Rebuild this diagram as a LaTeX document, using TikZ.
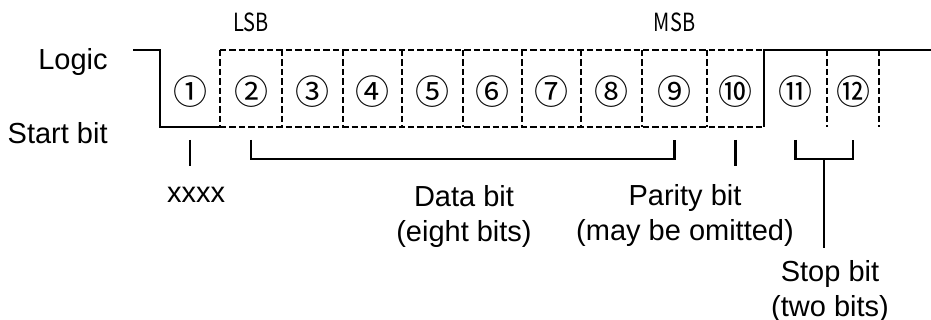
\documentclass[tikz,border=0pt]{standalone}
\usepackage{fontspec}
\setmainfont{Liberation Sans}
\newfontfamily\cjkfont{Noto Sans CJK JP}
\usetikzlibrary{calc}
\tikzset{
  sig/.style={line width=1.1pt},
  dsig/.style={line width=1.25pt, dash pattern=on 3.2pt off 1.5pt},
  brk/.style={line width=1.1pt},
  num/.style={font=\cjkfont\fontsize{17}{17}\selectfont, inner sep=0pt},
  sb/.style={font=\cjkfont\fontsize{12.5}{12.5}\selectfont, xscale=0.8, inner sep=0pt},
  lbl/.style={font=\fontsize{14.5}{17.5}\selectfont, align=center, inner sep=0pt},
}
\newcommand{\circnum}[1]{\char\numexpr 9311+#1\relax}

\begin{document}
\begin{tikzpicture}[x=0.5pt, y=-0.5pt]
  \useasboundingbox (0,0) rectangle (931,320);
  % bit cells
  \foreach \a/\b [count=\i] in {160/220,220/282,282/343,343/402,402/463,463/522,%
      522/581,581/642,642/707,707/764,764/827,827/879}
    \node[num] (n\i) at ({(\a+\b)/2},92) {\circnum{\i}};
  % waveform
  \draw[sig] (133,50) -- (160,50) -- (160,127) -- (220,127);
  \draw[dsig] (220,50) -- (764,50);
  \draw[dsig] (220,127) -- (764,127);
  \foreach \x in {220,282,343,402,463,522,581,642,707}
    \draw[dsig] (\x,50) -- (\x,127);
  \draw[sig] (764,127) -- (764,50) -- (931,50);
  \foreach \x in {827,879}
    \draw[dsig] (\x,50) -- (\x,127);
  % labels
  \node[lbl, anchor=base east] (logic) at (108,70) {Logic};
  \node[lbl, anchor=base east] (start) at (108,144) {Start bit};
  \node[sb, anchor=base] (lsb) at (n2 |- 0,32) {LSB};
  \node[sb, anchor=base] (msb) at (n9 |- 0,32) {MSB};
  \node[lbl, anchor=base] (xx) at (196,203) {xxxx};
  \node[lbl, anchor=north] (data) at (464,185) {Data bit\\(eight bits)};
  \node[lbl, anchor=north] (parity) at (685,184) {Parity bit\\(may be omitted)};
  \node[lbl, anchor=north] (stop) at (830,260) {Stop bit\\(two bits)};
  % brackets
  \draw[brk] (n1 |- 0,140) -- (n1 |- 0,166);
  \draw[brk] (n2 |- 0,140) -- (n2 |- 0,159) -- (n9 |- 0,159) -- (n9 |- 0,140);
  \draw[brk] (n10 |- 0,140) -- (n10 |- 0,166);
  \draw[brk] (n11 |- 0,140) -- (n11 |- 0,159) -- (n12 |- 0,159) -- (n12 |- 0,140);
  \coordinate (sm) at ($(n11)!0.5!(n12)$);
  \draw[brk] (sm |- 0,159) -- (sm |- 0,248);
\end{tikzpicture}
\end{document}
